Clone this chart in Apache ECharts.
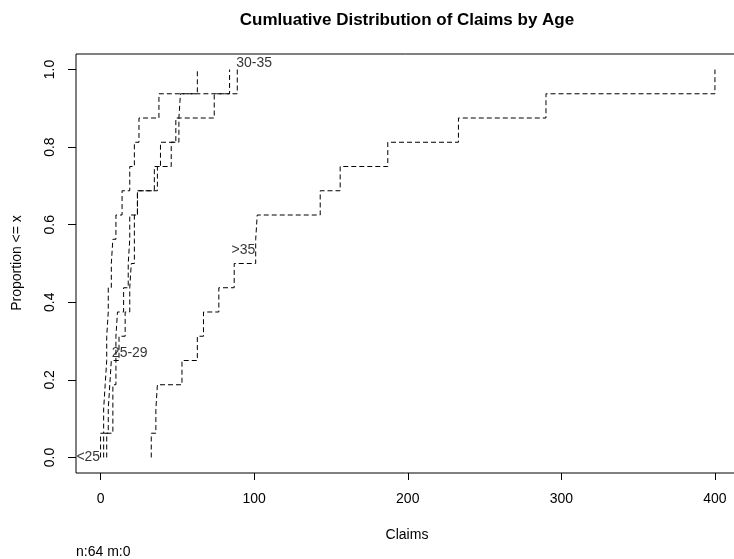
<!DOCTYPE html>
<html>
<head>
<meta charset="utf-8">
<script src="https://cdn.jsdelivr.net/npm/echarts@6/dist/echarts.min.js"></script>
<style>html,body{margin:0;padding:0;background:#fff}#c{width:734px;height:559px}</style>
</head>
<body>
<div id="c"></div>
<script>
// Claims per age group (16 observations each)
var groups = ['<25', '25-29', '30-35', '>35'];
var claimsLt25  = [38, 63, 19, 4, 22, 25, 14, 4, 5, 10, 8, 3, 2, 7, 5, 0];
var claims2529  = [35, 84, 52, 18, 19, 51, 46, 15, 11, 24, 19, 2, 5, 10, 7, 6];
var claims3035  = [20, 89, 74, 19, 22, 49, 39, 12, 10, 37, 24, 8, 4, 22, 16, 8];
var claimsGt35  = [156, 400, 233, 77, 87, 290, 143, 53, 67, 187, 101, 37, 36, 102, 63, 33];
var xTicks = [0, 100, 200, 300, 400];
var yTicks = [0, 0.2, 0.4, 0.6, 0.8, 1.0];
// curve label anchors (data coordinates)
var labelX = [-8, 19, 100, 93];
var labelY = [0.0, 0.27, 1.017, 0.535];

function ecdf(vals) {
  var s = vals.slice().sort(function (a, b) { return a - b; });
  var n = s.length;
  var pts = [[s[0], 0]];
  for (var i = 0; i < n; i++) pts.push([s[i], (i + 1) / n]);
  return pts;
}
var allClaims = [claimsLt25, claims2529, claims3035, claimsGt35];

var font = 'Liberation Sans, Arial, sans-serif';
var series = allClaims.map(function (v, i) {
  return {
    type: 'line', name: groups[i], step: 'end', symbol: 'none',
    data: ecdf(v),
    lineStyle: { color: '#000', width: 1, type: [5, 3] },
    silent: true, z: 2
  };
});
series.push({
  type: 'scatter', symbolSize: 0, silent: true, z: 5,
  data: groups.map(function (g, i) { return { value: [labelX[i], labelY[i]], name: g }; }),
  label: { show: true, position: 'inside', formatter: function (p) { return p.name; },
           color: '#000', fontFamily: font, fontSize: 14 }
});

var chart = echarts.init(document.getElementById('c'), null, { renderer: 'canvas' });
chart.setOption({
  animation: false,
  backgroundColor: '#fff',
  grid: { left: 76, top: 54, width: 663.5, height: 419, outerBoundsMode: 'none', containLabel: false,
          show: true, borderColor: '#000', borderWidth: 1, backgroundColor: 'transparent' },
  xAxis: {
    type: 'value', min: -16, max: 416,
    axisLine: { show: false, onZero: false },
    splitLine: { show: false },
    axisTick: { show: true, inside: false, length: 7, lineStyle: { color: '#000' }, customValues: xTicks },
    axisLabel: { color: '#000', fontSize: 14, fontFamily: font, margin: 19, customValues: xTicks }
  },
  yAxis: {
    type: 'value', min: -0.04, max: 1.04,
    axisLine: { show: false, onZero: false },
    splitLine: { show: false },
    axisTick: { show: true, inside: false, length: 8, lineStyle: { color: '#000' }, customValues: yTicks },
    axisLabel: { color: '#000', fontSize: 14, fontFamily: font, margin: 19, rotate: 90,
                 customValues: yTicks, formatter: function (v) { return v.toFixed(1); } }
  },
  series: series,
  graphic: [
    { type: 'text', x: 407, y: 20, style: { text: 'Cumluative Distribution of Claims by Age', font: 'bold 17px ' + font, fill: '#000', align: 'center', verticalAlign: 'middle' } },
    { type: 'text', x: 407, y: 535, style: { text: 'Claims', font: '14px ' + font, fill: '#000', align: 'center', verticalAlign: 'middle' } },
    { type: 'text', x: 17, y: 263, rotation: Math.PI / 2, style: { text: 'Proportion <= x', font: '14px ' + font, fill: '#000', align: 'center', verticalAlign: 'middle' } },
    { type: 'text', x: 76, y: 552, style: { text: 'n:64 m:0', font: '14px ' + font, fill: '#000', align: 'left', verticalAlign: 'middle' } }
  ]
});
</script>
</body>
</html>
